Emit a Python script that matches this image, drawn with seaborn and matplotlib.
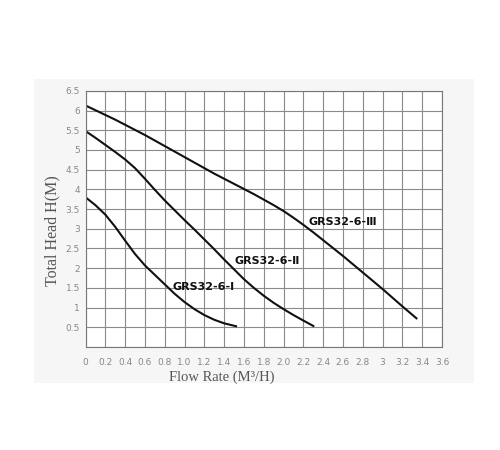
import numpy as np
import pandas as pd
import matplotlib
matplotlib.use("Agg")
import matplotlib.pyplot as plt
import seaborn as sns

# pump curves
flow_1 = [0, 0.1, 0.2, 0.3, 0.4, 0.5, 0.6, 0.7, 0.8, 0.9, 1.0, 1.1, 1.2, 1.3, 1.4, 1.53]
head_1 = [3.8, 3.6, 3.36, 3.05, 2.7, 2.36, 2.07, 1.83, 1.59, 1.35, 1.14, 0.96, 0.81, 0.69, 0.6, 0.52]

flow_2 = [0, 0.1, 0.2, 0.3, 0.4, 0.5, 0.6, 0.7, 0.8, 0.9, 1.0, 1.1, 1.2, 1.3, 1.4, 1.5,
          1.6, 1.7, 1.8, 1.9, 2.0, 2.1, 2.2, 2.31]
head_2 = [5.48, 5.31, 5.13, 4.95, 4.76, 4.54, 4.27, 3.99, 3.72, 3.47, 3.22, 2.98, 2.73, 2.48,
          2.22, 1.97, 1.72, 1.5, 1.3, 1.12, 0.96, 0.81, 0.67, 0.52]

flow_3 = [0, 0.1, 0.2, 0.3, 0.4, 0.5, 0.6, 0.7, 0.8, 0.9, 1.0, 1.1, 1.2, 1.3, 1.4, 1.5, 1.6,
          1.7, 1.8, 1.9, 2.0, 2.1, 2.2, 2.3, 2.4, 2.5, 2.6, 2.7, 2.8, 2.9, 3.0, 3.1, 3.2, 3.35]
head_3 = [6.13, 6.01, 5.89, 5.77, 5.64, 5.51, 5.38, 5.24, 5.1, 4.96, 4.82, 4.68, 4.54, 4.4,
          4.27, 4.14, 4.01, 3.88, 3.74, 3.6, 3.45, 3.28, 3.1, 2.91, 2.71, 2.51, 2.31, 2.1,
          1.89, 1.68, 1.47, 1.25, 1.03, 0.71]

names = ["GRS32-6-Ⅰ", "GRS32-6-Ⅱ", "GRS32-6-Ⅲ"]
label_x = [0.88, 1.50, 2.25]
label_y = [1.51, 2.17, 3.17]

x_ticks = [0, 0.2, 0.4, 0.6, 0.8, 1.0, 1.2, 1.4, 1.6, 1.8, 2.0, 2.2, 2.4, 2.6, 2.8, 3.0, 3.2, 3.4, 3.6]
x_tick_labels = ["0", "0.2", "0.4", "0.6", "0.8", "1.0", "1.2", "1.4", "1.6", "1.8",
                 "2.0", "2.2", "2.4", "2.6", "2.8", "3", "3.2", "3.4", "3.6"]
y_tick_labels = ["0.5", "1", "1.5", "2", "2.5", "3", "3.5", "4", "4.5", "5", "5.5", "6", "6.5"]

df = pd.concat([
    pd.DataFrame({"flow": flow_1, "head": head_1, "pump": names[0]}),
    pd.DataFrame({"flow": flow_2, "head": head_2, "pump": names[1]}),
    pd.DataFrame({"flow": flow_3, "head": head_3, "pump": names[2]}),
])

sns.set_style("white")
plt.rcParams["font.family"] = ["Liberation Sans Narrow", "DejaVu Sans"]

fig = plt.figure(figsize=(5, 4.5), dpi=100)
fig.patch.set_facecolor("white")
# light grey panel behind the chart
fig.add_artist(plt.Rectangle((0.068, 0.149), 0.88, 0.676, transform=fig.transFigure,
                             facecolor="#f6f6f6", edgecolor="none", zorder=0))

ax = fig.add_axes([0.171, 0.229, 0.713, 0.569])
ax.set_facecolor("white")

sns.lineplot(data=df, x="flow", y="head", hue="pump", palette=["#111111"] * 3,
             linewidth=1.5, legend=False, ax=ax, sort=False, estimator=None,
             solid_joinstyle="round", solid_capstyle="butt")

for name, tx, ty in zip(names, label_x, label_y):
    ax.text(tx, ty, name, ha="left", va="center", fontsize=8, fontweight="bold",
            color="#111111",
            family=["DejaVu Sans Condensed", "Liberation Sans Narrow", "DejaVu Sans"])

ax.set_xlim(0, 3.6)
ax.set_ylim(0, 6.5)
ax.set_xticks(x_ticks)
ax.set_xticklabels(x_tick_labels)
ax.set_yticks(np.arange(0, 6.51, 0.5))
ax.set_yticklabels([""] + y_tick_labels)
ax.tick_params(axis="both", length=0, labelsize=6.5, labelcolor="#888888")
ax.tick_params(axis="x", pad=8)
ax.tick_params(axis="y", pad=4)
ax.grid(True, color="#8a8a8a", linewidth=0.8)
for s in ax.spines.values():
    s.set_color("#777777")
    s.set_linewidth(0.8)
ax.set_xlabel("")
ax.set_ylabel("")

fig.text(0.444, 0.162, "Flow Rate (M³/H)", ha="center", va="center", fontsize=10.5,
         color="#555555", family=["Liberation Serif", "DejaVu Serif"])
fig.text(0.104, 0.488, "Total Head H(M)", ha="center", va="center", rotation=90,
         fontsize=11.5, color="#555555", family=["Liberation Serif", "DejaVu Serif"])

fig.savefig("out.png", dpi=100)
